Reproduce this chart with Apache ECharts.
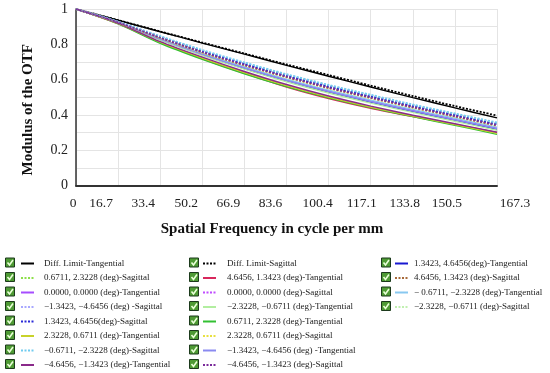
<!DOCTYPE html>
<html><head><meta charset="utf-8">
<script src="https://cdn.jsdelivr.net/npm/echarts@6/dist/echarts.min.js"></script>
<style>html,body{margin:0;padding:0;background:#fff}#c{width:550px;height:373px}</style>
</head><body><div id="c"></div>
<script>
const freq = [0, 16.73, 33.46, 50.19, 66.92, 83.65, 100.38, 117.11, 133.84, 150.57, 167.3];
const xTickLabels = ['0','16.7','33.4','50.2','66.9','83.6','100.4','117.1','133.8','150.5','167.3'];

const diffT = [1, 0.936, 0.871, 0.807, 0.744, 0.681, 0.619, 0.558, 0.498, 0.440, 0.383];
const diffS = [1, 0.937, 0.873, 0.810, 0.748, 0.686, 0.626, 0.566, 0.507, 0.450, 0.396];
const s_p06_p23 = [1, 0.925, 0.839, 0.758, 0.686, 0.619, 0.558, 0.502, 0.447, 0.396, 0.344];
const t_p46_p13 = [1, 0.917, 0.810, 0.718, 0.635, 0.558, 0.493, 0.438, 0.390, 0.345, 0.300];
const t_00_00   = [1, 0.922, 0.830, 0.745, 0.668, 0.598, 0.535, 0.478, 0.425, 0.375, 0.325];
const s_00_00   = [1, 0.926, 0.842, 0.762, 0.690, 0.624, 0.563, 0.507, 0.452, 0.401, 0.349];
const s_m13_m46 = [1, 0.927, 0.844, 0.765, 0.694, 0.628, 0.567, 0.511, 0.456, 0.405, 0.353];
const t_m23_m06 = [1, 0.921, 0.825, 0.738, 0.659, 0.588, 0.524, 0.467, 0.414, 0.364, 0.313];
const s_p13_p46 = [1, 0.925, 0.840, 0.760, 0.688, 0.621, 0.560, 0.504, 0.449, 0.398, 0.346];
const t_p06_p23 = [1, 0.916, 0.806, 0.715, 0.633, 0.560, 0.497, 0.441, 0.390, 0.341, 0.290];
const t_p23_p06 = [1, 0.918, 0.812, 0.722, 0.640, 0.566, 0.501, 0.444, 0.393, 0.345, 0.296];
const s_p23_p06 = [1, 0.923, 0.835, 0.752, 0.679, 0.612, 0.550, 0.494, 0.440, 0.389, 0.337];
const s_m06_m23 = [1, 0.928, 0.846, 0.768, 0.697, 0.631, 0.570, 0.514, 0.459, 0.408, 0.357];
const t_m13_m46 = [1, 0.922, 0.829, 0.743, 0.666, 0.596, 0.533, 0.476, 0.423, 0.372, 0.322];
const t_m46_m13 = [1, 0.919, 0.815, 0.727, 0.646, 0.572, 0.507, 0.450, 0.398, 0.350, 0.302];
const s_m46_m13 = [1, 0.924, 0.837, 0.755, 0.682, 0.615, 0.553, 0.497, 0.443, 0.392, 0.340];
const t_p13_p46 = [1, 0.921, 0.826, 0.740, 0.662, 0.592, 0.528, 0.472, 0.419, 0.369, 0.318];
const s_p46_p13 = [1, 0.924, 0.838, 0.757, 0.684, 0.617, 0.556, 0.500, 0.446, 0.395, 0.343];
const t_m06_m23 = [1, 0.923, 0.832, 0.748, 0.672, 0.603, 0.540, 0.484, 0.431, 0.381, 0.331];
const s_m23_m06 = [1, 0.926, 0.843, 0.764, 0.692, 0.626, 0.565, 0.509, 0.454, 0.403, 0.351];

const seriesDefs = [
  ['Diff. Limit-Tangential', diffT, '#000000', false],
  ['Diff. Limit-Sagittal', diffS, '#000000', true],
  ['1.3423, 4.6456(deg)-Tangential', t_p13_p46, '#1818d0', false],
  ['0.6711, 2.3228 (deg)-Sagittal', s_p06_p23, '#8ee04a', true],
  ['4.6456, 1.3423 (deg)-Tangential', t_p46_p13, '#d8285c', false],
  ['4.6456, 1.3423 (deg)-Sagittal', s_p46_p13, '#a86a3a', true],
  ['0.0000, 0.0000 (deg)-Tangential', t_00_00, '#a64dff', false],
  ['0.0000, 0.0000 (deg)-Sagittal', s_00_00, '#c04dff', true],
  ['\u2212 0.6711, \u22122.3228 (deg)-Tangential', t_m06_m23, '#88c8f0', false],
  ['\u22121.3423, \u22124.6456 (deg) -Sagittal', s_m13_m46, '#a8a8ff', true],
  ['\u22122.3228, \u22120.6711 (deg)-Tangential', t_m23_m06, '#b2eea0', false],
  ['\u22122.3228, \u22120.6711 (deg)-Sagittal', s_m23_m06, '#c0f0b0', true],
  ['1.3423, 4.6456(deg)-Sagittal', s_p13_p46, '#2a2ad8', true],
  ['0.6711, 2.3228 (deg)-Tangential', t_p06_p23, '#33c033', false],
  ['2.3228, 0.6711 (deg)-Tangential', t_p23_p06, '#c8d22a', false],
  ['2.3228, 0.6711 (deg)-Sagittal', s_p23_p06, '#e8e040', true],
  ['\u22120.6711, \u22122.3228 (deg)-Sagittal', s_m06_m23, '#70ccf0', true],
  ['\u22121.3423, \u22124.6456 (deg) -Tangential', t_m13_m46, '#8a8af0', false],
  ['\u22124.6456, \u22121.3423 (deg)-Tangential', t_m46_m13, '#8a2a8a', false],
  ['\u22124.6456, \u22121.3423 (deg)-Sagittal', s_m46_m13, '#7a2a9a', true]
];

const col1 = ['Diff. Limit-Tangential','0.6711, 2.3228 (deg)-Sagittal','0.0000, 0.0000 (deg)-Tangential','\u22121.3423, \u22124.6456 (deg) -Sagittal','1.3423, 4.6456(deg)-Sagittal','2.3228, 0.6711 (deg)-Tangential','\u22120.6711, \u22122.3228 (deg)-Sagittal','\u22124.6456, \u22121.3423 (deg)-Tangential'];
const col2 = ['Diff. Limit-Sagittal','4.6456, 1.3423 (deg)-Tangential','0.0000, 0.0000 (deg)-Sagittal','\u22122.3228, \u22120.6711 (deg)-Tangential','0.6711, 2.3228 (deg)-Tangential','2.3228, 0.6711 (deg)-Sagittal','\u22121.3423, \u22124.6456 (deg) -Tangential','\u22124.6456, \u22121.3423 (deg)-Sagittal'];
const col3 = ['1.3423, 4.6456(deg)-Tangential','4.6456, 1.3423 (deg)-Sagittal','\u2212 0.6711, \u22122.3228 (deg)-Tangential','\u22122.3228, \u22120.6711 (deg)-Sagittal'];

const FONT = 'Liberation Serif, Times New Roman, serif';
const labelShift = [-3,-17,-17,-16,-16,-16,-11,-9,-8,-8,18];

const rich = {};
labelShift.forEach((s, i) => {
  rich['r' + i] = { fontSize: 13.5, fontFamily: FONT, color: '#222',
    padding: s < 0 ? [0, -2 * s, 0, 0] : [0, 0, 0, 2 * s] };
});

const series = seriesDefs.map(([name, vals, color, dotted]) => ({
  name, type: 'line', symbol: 'none', smooth: 0.3,
  data: freq.map((f, i) => [f, vals[i]]),
  lineStyle: { color, width: dotted ? 1.8 : 1.4, type: dotted ? [2, 1.5] : 'solid' },
  itemStyle: { color },
  z: dotted ? 3 : 2
}));

const rowTop = 257, rowPitch = 14.5;
function mkLegend(left, data, pad) {
  return { orient: 'vertical', left, top: 253.5, height: 140, itemWidth: 13, itemHeight: 10, itemGap: 4.5,
    selectedMode: false, data,
    itemStyle: { opacity: 0, borderWidth: 0 },
    lineStyle: { width: 2 },
    textStyle: { fontSize: 9, fontFamily: FONT, color: '#222', padding: [0, 0, 0, pad], lineHeight: 10 } };
}

const graphics = [];
[[5, col1.length], [189, col2.length], [381, col3.length]].forEach(([x, n]) => {
  for (let i = 0; i < n; i++) {
    const y = rowTop + i * rowPitch + 0.5;
    graphics.push({ type: 'group', left: x, top: y, children: [
      { type: 'rect', shape: { x: 0, y: 0, width: 9, height: 9 }, style: { fill: '#4e9a34', stroke: '#1c3a1c', lineWidth: 1 } },
      { type: 'polyline', shape: { points: [[2, 4.5], [4, 7], [7.5, 2]] }, style: { stroke: '#eaffd8', lineWidth: 1.6, fill: null } }
    ]});
  }
});

const chart = echarts.init(document.getElementById('c'), null, { renderer: 'canvas' });
chart.setOption({
  animation: false,
  backgroundColor: '#fff',
  grid: { left: 76, right: 53, top: 9, bottom: 187.5, containLabel: false },
  xAxis: {
    type: 'value', min: 0, max: 167.3, interval: 16.73,
    name: 'Spatial Frequency in cycle per mm', nameLocation: 'middle', nameGap: 36,
    nameTextStyle: { fontSize: 15, fontWeight: 'bold', fontFamily: FONT, color: '#111', padding: [0, 29, 0, 0] },
    axisLine: { show: true, lineStyle: { color: '#333', width: 2 } },
    axisTick: { show: false },
    splitLine: { show: true, lineStyle: { color: '#e4e4e4', width: 1 } },
    axisLabel: { margin: 11, showMaxLabel: true, showMinLabel: true, rich,
      formatter: v => { const i = Math.round(v / 16.73); return '{r' + i + '|' + xTickLabels[i] + '}'; } }
  },
  yAxis: {
    type: 'value', min: 0, max: 1, interval: 0.1,
    name: 'Modulus of the OTF', nameLocation: 'middle', nameGap: 40,
    nameTextStyle: { fontSize: 15, fontWeight: 'bold', fontFamily: FONT, color: '#111', padding: [0, 25, 0, 0] },
    axisLine: { show: true, lineStyle: { color: '#333', width: 1.5 } },
    axisTick: { show: false },
    splitLine: { show: true, lineStyle: { color: '#e4e4e4', width: 1 } },
    axisLabel: { margin: 8, fontSize: 14, fontFamily: FONT, color: '#222',
      formatter: v => { const k = Math.round(v * 10); return k % 2 === 0 ? String(k / 10) : ''; } }
  },
  legend: [mkLegend(15, col1, 5), mkLegend(197, col2, 6), mkLegend(389, col3, 1)],
  graphic: graphics,
  series
});
</script></body></html>
